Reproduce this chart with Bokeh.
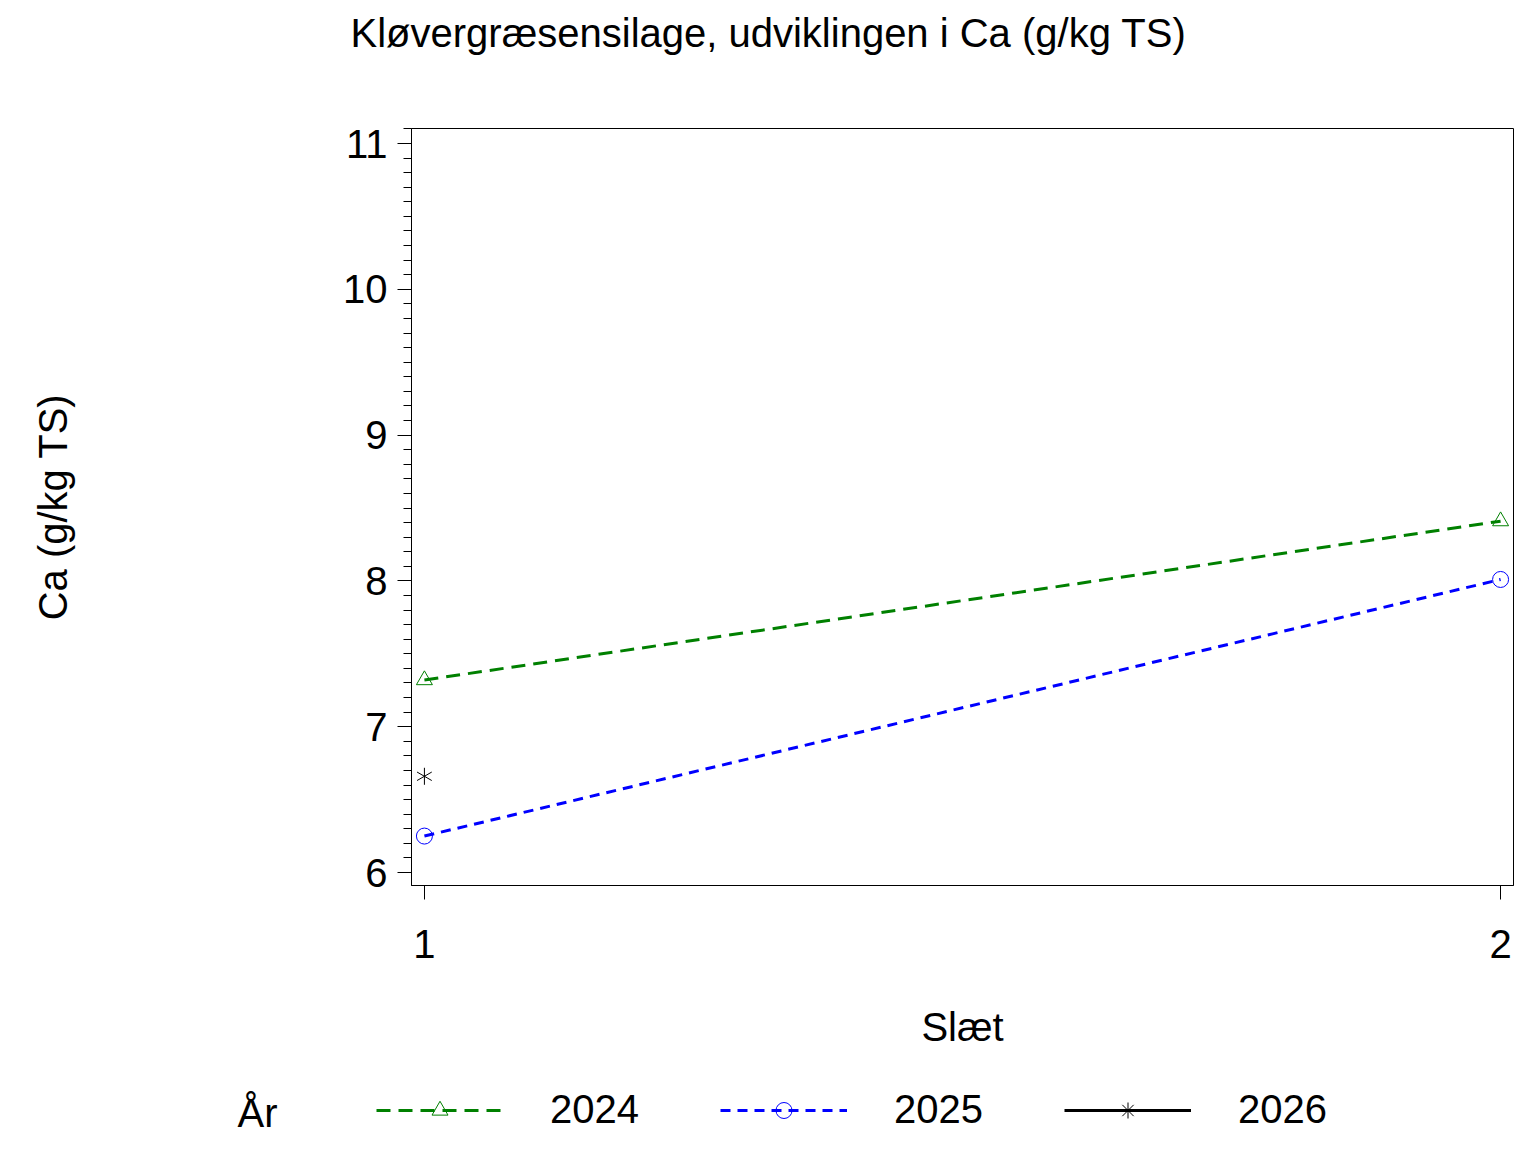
from math import pi

from bokeh.plotting import figure
from bokeh.layouts import column
from bokeh.models import (Range1d, SingleIntervalTicker, FixedTicker, Legend,
                          LegendItem, Label)
from bokeh.embed import file_html
from bokeh.resources import INLINE

# data
slaet = [1, 2]
ca_2024 = [7.32, 8.41]
ca_2025 = [6.25, 8.01]
slaet_2026 = [1]
ca_2026 = [6.66]

years = ["2024", "2025", "2026"]
colors = ["#008000", "#0000FF", "#000000"]
dashes = ["14 8", "10 7", "solid"]
markers = ["triangle", "circle", "star6"]

FONT = "Liberation Sans"
W = 1520


def blank_fig(height, x_range=(0, 1), y_range=(0, 1)):
    f = figure(width=W, height=height, output_backend="svg",
               toolbar_location=None, x_axis_type=None, y_axis_type=None,
               x_range=Range1d(*x_range), y_range=Range1d(*y_range),
               min_border=0, frame_align=False)
    f.grid.visible = False
    f.outline_line_color = None
    return f


def add_series(f, xs, ys, c, d, m, for_legend=False):
    """line + open markers; the 2026 symbol is a six-armed asterisk"""
    rs = [f.line(xs, ys, color=c, line_width=3, line_dash=d)]
    if m == "star6" and for_legend:
        # legend swatch: the line itself gives the horizontal arm
        rs.append(f.scatter(xs, ys, marker="asterisk", size=14,
                            line_color=c, line_width=1))
    elif m == "star6":
        for a in (pi / 2, pi / 6, -pi / 6):
            rs.append(f.scatter(xs, ys, marker="dash", size=17, angle=a,
                                line_color=c, line_width=1))
    else:
        rs.append(f.scatter(xs, ys, marker=m, size=16, line_color=c,
                            fill_color=None, line_width=1))
    return rs


# ---- title strip
top = blank_fig(118)
top.add_layout(Label(
    x=768, y=86, x_units="screen", y_units="screen",
    text="Kløvergræsensilage, udviklingen i Ca (g/kg TS)",
    text_font=FONT, text_font_size="40px", text_align="center",
    text_baseline="alphabetic", text_color="black",
))

# ---- main chart
p = figure(
    width=W,
    height=950,
    output_backend="svg",
    toolbar_location=None,
    x_range=Range1d(0.988, 2.012),
    y_range=Range1d(5.911, 11.103),
    min_border_left=411,
    min_border_right=7,
    min_border_top=10,
    min_border_bottom=183,
    frame_align=False,
)
p.grid.visible = False
p.outline_line_color = "black"
p.outline_line_width = 1

p.yaxis.ticker = SingleIntervalTicker(interval=1, num_minor_ticks=10)
p.xaxis.ticker = FixedTicker(ticks=[1, 2], minor_ticks=[])
for ax in (p.xaxis, p.yaxis):
    ax.axis_line_color = "black"
    ax.major_tick_line_color = "black"
    ax.minor_tick_line_color = "black"
    ax.major_tick_out = 14
    ax.major_tick_in = 0
    ax.minor_tick_out = 8
    ax.minor_tick_in = 0
    ax.major_label_text_font = FONT
    ax.major_label_text_font_size = "40px"
    ax.major_label_text_color = "black"
    ax.axis_label_text_font = FONT
    ax.axis_label_text_font_size = "40px"
    ax.axis_label_text_font_style = "normal"
    ax.axis_label_text_color = "black"

p.yaxis.axis_label = "Ca (g/kg TS)"
p.yaxis.major_label_standoff = 10
p.yaxis.axis_label_standoff = 265
p.yaxis.major_label_orientation = "horizontal"

p.xaxis.axis_label = "Slæt"
p.xaxis.major_label_standoff = 30
p.xaxis.axis_label_standoff = 44

series = [(slaet, ca_2024), (slaet, ca_2025), (slaet_2026, ca_2026)]
for (xs, ys), c, d, m in zip(series, colors, dashes, markers):
    add_series(p, xs, ys, c, d, m)

# ---- legend strip (same series, kept outside its visible ranges)
bot = blank_fig(68, x_range=(10, 11), y_range=(10, 11))
items = []
for (xs, ys), c, d, m, yr in zip(series, colors, dashes, markers, years):
    rs = add_series(bot, xs, ys, c, d, m, for_legend=True)
    items.append(LegendItem(label=yr, renderers=rs))

legend = Legend(
    items=items,
    orientation="horizontal",
    location=(376, 4),
    label_text_font=FONT,
    label_text_font_size="40px",
    label_text_color="black",
    glyph_width=127,
    glyph_height=40,
    label_height=40,
    label_standoff=47,
    spacing=81,
    padding=0,
    margin=0,
    border_line_alpha=0,
    background_fill_alpha=0,
)
bot.add_layout(legend, "center")
bot.add_layout(Label(
    x=237, y=24, x_units="screen", y_units="screen", text="År",
    text_font=FONT, text_font_size="40px", text_align="left",
    text_baseline="middle", text_color="black",
))

layout = column(top, p, bot, spacing=0)
open("out.html", "w").write(file_html(layout, INLINE))
